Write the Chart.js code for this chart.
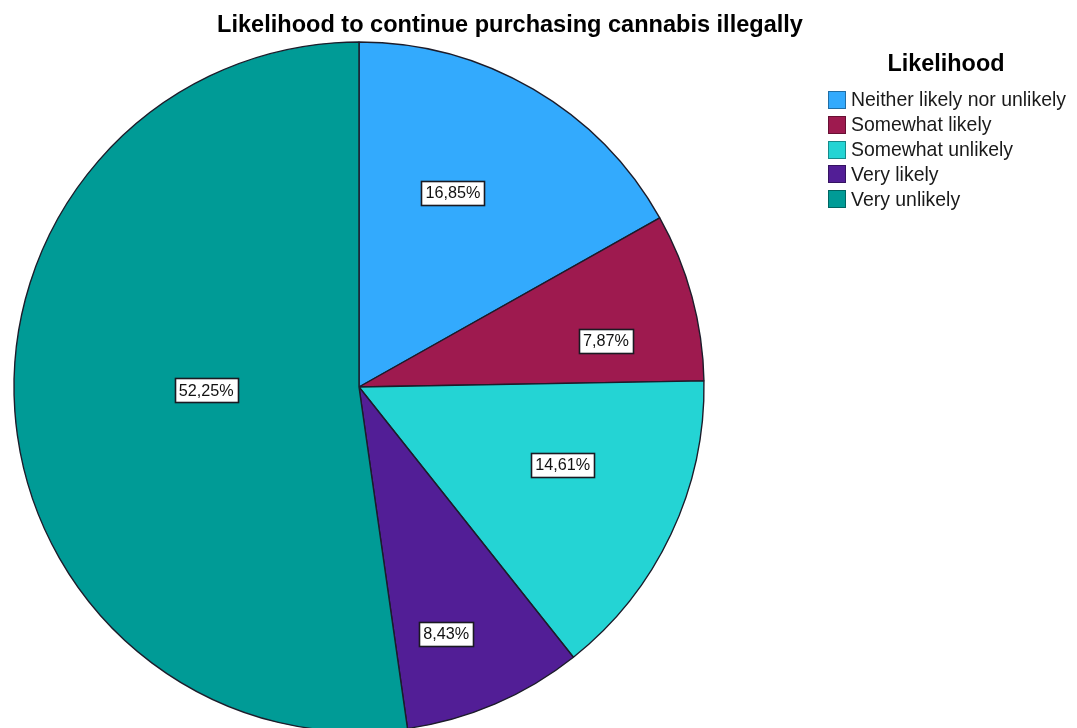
<!DOCTYPE html>
<html>
<head>
<meta charset="utf-8">
<script src="https://cdn.jsdelivr.net/npm/chart.js@4/dist/chart.umd.min.js"></script>
<style>
  html, body { margin: 0; padding: 0; background: #ffffff; }
  #wrap { position: relative; width: 1077px; height: 728px; overflow: hidden; background: #ffffff; }
  #pie { position: absolute; left: 0; top: 0; }
</style>
</head>
<body>
<div id="wrap"><canvas id="pie" width="1077" height="760"></canvas></div>
<script>
// Survey answers and their shares (percent)
const categories = ['Neither likely nor unlikely', 'Somewhat likely', 'Somewhat unlikely', 'Very likely', 'Very unlikely'];
const shares = [16.85, 7.87, 14.61, 8.43, 52.25];
const chartTitle = 'Likelihood to continue purchasing cannabis illegally';
const legendTitle = 'Likelihood';

// Slice colours, in category order
const sliceColors = ['#33AAFD', '#9E1A4F', '#24D4D4', '#521E96', '#009B96'];

// Where each percentage box sits inside its slice: fraction of the radius, angle nudge (deg)
const labelPlacement = [
  { r: 0.625, shift: -4.5 },
  { r: 0.728, shift: 4.6 },
  { r: 0.632, shift: -4.4 },
  { r: 0.759, shift: 3.8 },
  { r: 0.443, shift: 2.9 }
];

const SANS = '"Liberation Sans", Arial, sans-serif';

function fitFont(ctx, text, weight, target) {
  ctx.font = weight + ' 20px ' + SANS;
  const w = ctx.measureText(text).width;
  return 20 * target / w;
}

const decorations = {
  id: 'decorations',
  afterDraw(chart) {
    const ctx = chart.ctx;
    ctx.save();

    // Title
    const ts = fitFont(ctx, chartTitle, 'bold', 586);
    ctx.font = 'bold ' + ts.toFixed(2) + 'px ' + SANS;
    ctx.fillStyle = '#000000';
    ctx.textAlign = 'center';
    ctx.textBaseline = 'middle';
    ctx.fillText(chartTitle, 510, 26);

    // Percentage boxes
    const meta = chart.getDatasetMeta(0);
    const ls = fitFont(ctx, '16,85%', 'normal', 55);
    ctx.font = 'normal ' + ls.toFixed(2) + 'px ' + SANS;
    meta.data.forEach((arc, i) => {
      const p = arc.getProps(['x', 'y', 'startAngle', 'endAngle', 'outerRadius'], true);
      const place = labelPlacement[i];
      const a = (p.startAngle + p.endAngle) / 2 + place.shift * Math.PI / 180;
      const cx = p.x + p.outerRadius * place.r * Math.cos(a);
      const cy = p.y + p.outerRadius * place.r * Math.sin(a);
      const text = shares[i].toFixed(2).replace('.', ',') + '%';
      const tw = ctx.measureText(text).width;
      const bw = Math.round(tw + 8), bh = 24;
      const bx = Math.round(cx - bw / 2) + 0.5, by = Math.round(cy - bh / 2) + 0.5;
      ctx.fillStyle = '#ffffff';
      ctx.fillRect(bx, by, bw, bh);
      ctx.strokeStyle = '#1a1a22';
      ctx.lineWidth = 1.6;
      ctx.strokeRect(bx, by, bw, bh);
      ctx.fillStyle = '#111111';
      ctx.textAlign = 'center';
      ctx.textBaseline = 'middle';
      ctx.fillText(text, cx, cy + 1);
    });

    // Legend
    const hs = fitFont(ctx, legendTitle, 'bold', 117);
    ctx.font = 'bold ' + hs.toFixed(2) + 'px ' + SANS;
    ctx.fillStyle = '#000000';
    ctx.textAlign = 'center';
    ctx.fillText(legendTitle, 946, 65);

    const es = fitFont(ctx, categories[0], 'normal', 215);
    ctx.font = 'normal ' + es.toFixed(2) + 'px ' + SANS;
    ctx.textAlign = 'left';
    ctx.lineWidth = 1;
    categories.forEach((name, i) => {
      const rowY = 100 + i * 24.8;
      ctx.fillStyle = sliceColors[i];
      ctx.fillRect(828, Math.round(rowY - 9), 18, 18);
      ctx.strokeStyle = 'rgba(0,0,0,0.35)';
      ctx.strokeRect(828.5, Math.round(rowY - 9) + 0.5, 17, 17);
      ctx.fillStyle = '#1a1a1a';
      ctx.fillText(name, 851, rowY + 1);
    });

    ctx.restore();
  }
};

new Chart(document.getElementById('pie'), {
  type: 'pie',
  data: {
    labels: categories,
    datasets: [{
      data: shares,
      backgroundColor: sliceColors,
      borderColor: '#1c1c2a',
      borderWidth: 1.4,
      hoverOffset: 0
    }]
  },
  options: {
    responsive: false,
    animation: false,
    radius: 345,
    layout: { padding: { left: 14, right: 373, top: 42, bottom: 28 } },
    plugins: {
      legend: { display: false },
      title: { display: false },
      tooltip: { enabled: false }
    }
  },
  plugins: [decorations]
});
</script>
</body>
</html>
